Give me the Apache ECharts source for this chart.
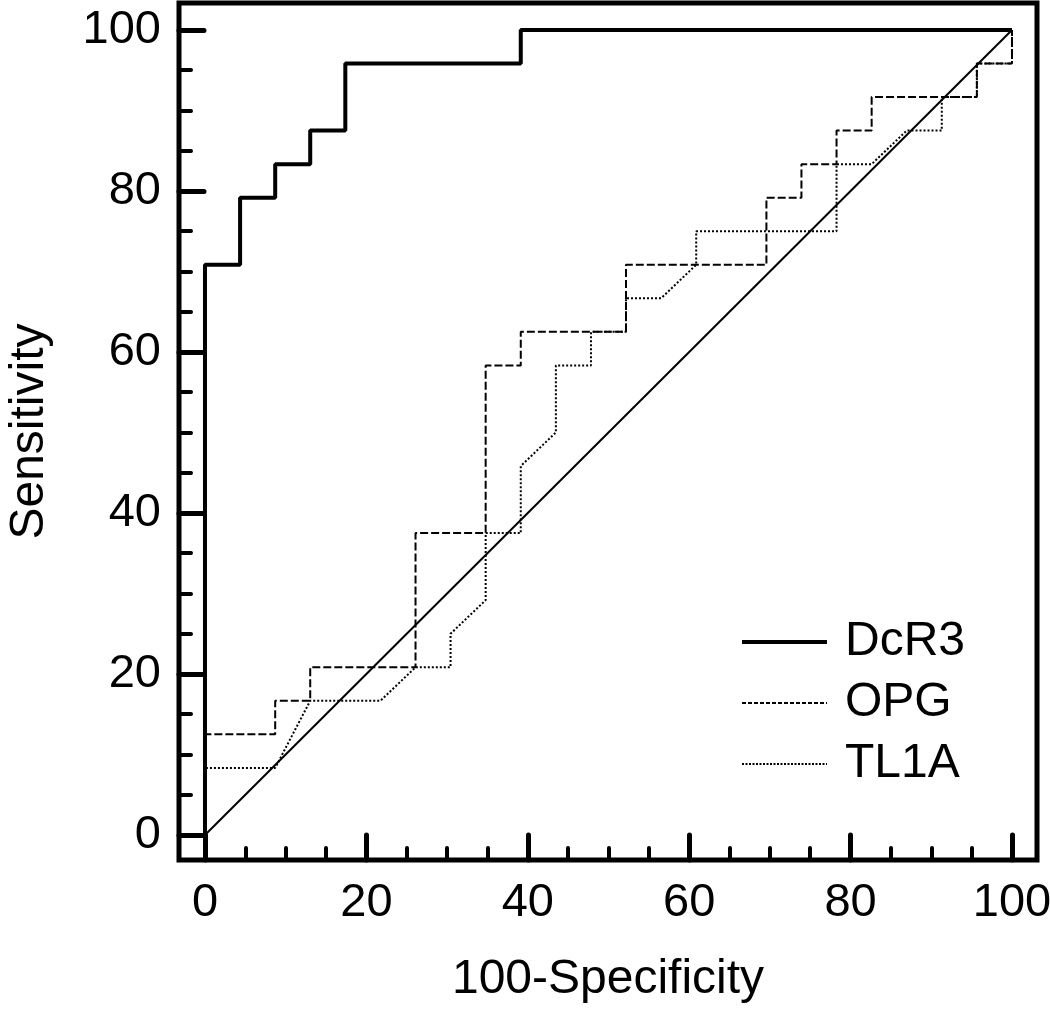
<!DOCTYPE html>
<html>
<head>
<meta charset="utf-8">
<script src="https://cdn.jsdelivr.net/npm/echarts@6/dist/echarts.min.js"></script>
<style>html,body{margin:0;padding:0;background:#fff;}#c{width:1050px;height:1012px;}</style>
</head>
<body>
<div id="c"></div>
<script>
// ROC curves: [100-Specificity, Sensitivity]
const dcr3 = [[0,0],[0,70.83],[4.35,70.83],[4.35,79.17],[8.70,79.17],[8.70,83.33],[13.04,83.33],[13.04,87.5],[17.39,87.5],[17.39,95.83],[39.13,95.83],[39.13,100],[100,100]];
const opg = [[0,0],[0,12.5],[8.70,12.5],[8.70,16.67],[13.04,16.67],[13.04,20.83],[26.09,20.83],[26.09,37.5],[34.78,37.5],[34.78,58.33],[39.13,58.33],[39.13,62.5],[52.17,62.5],[52.17,70.83],[69.57,70.83],[69.57,79.17],[73.91,79.17],[73.91,83.33],[78.26,83.33],[78.26,87.5],[82.61,87.5],[82.61,91.67],[95.65,91.67],[95.65,95.83],[100,95.83],[100,100]];
const tl1a = [[0,0],[0,8.33],[8.70,8.33],[13.04,16.67],[21.74,16.67],[26.09,20.83],[30.43,20.83],[30.43,25.0],[34.78,29.17],[34.78,37.5],[39.13,37.5],[39.13,45.83],[43.48,50.0],[43.48,58.33],[47.83,58.33],[47.83,62.5],[52.17,62.5],[52.17,66.67],[56.52,66.67],[60.87,70.83],[60.87,75.0],[78.26,75.0],[78.26,83.33],[82.61,83.33],[86.96,87.5],[91.30,87.5],[91.30,91.67],[95.65,91.67],[95.65,95.83],[100,95.83],[100,100]];
const diagonal = [[0,0],[100,100]];
const majorTicks = [0,20,40,60,80,100];
const minorTicks = [5,10,15,25,30,35,45,50,55,65,70,75,85,90,95];
const seriesNames = ['DcR3','OPG','TL1A'];

const FONT = 'Liberation Sans, Arial, sans-serif';
const chart = echarts.init(document.getElementById('c'));
const xRange = {min:-3.22, max:103.10};
const yRange = {min:-3.11, max:103.35};
function axisPair(type) {
  const r = type === 'x' ? xRange : yRange;
  const pos = type === 'x' ? 'bottom' : 'left';
  const major = {
    type:'value', position:pos, min:r.min, max:r.max,
    axisLine:{show:false, onZero:false}, splitLine:{show:false},
    axisTick:{show:true, inside:true, length:25, customValues:majorTicks, lineStyle:{color:'#000', width:5, cap:'round'}},
    axisLabel:{show:true, customValues:majorTicks, color:'#000', fontFamily:FONT, fontSize:47, margin: type==='x'?20:18},
    name: type==='x' ? '100-Specificity' : 'Sensitivity',
    nameLocation:'middle', nameGap: type==='x' ? 96 : 125,
    nameTextStyle:{color:'#000', fontFamily:FONT, fontSize:48}
  };
  const minor = {
    type:'value', position:pos, min:r.min, max:r.max,
    axisLine:{show:false, onZero:false}, splitLine:{show:false},
    axisTick:{show:true, inside:true, length:12, customValues:minorTicks, lineStyle:{color:'#000', width:4, cap:'round'}},
    axisLabel:{show:false}
  };
  return [major, minor];
}
chart.setOption({
  animation:false,
  backgroundColor:'#fff',
  grid:{left:179, right:13, top:3, bottom:152, containLabel:false, outerBoundsMode:'none', show:true, borderColor:'#000', borderWidth:5, backgroundColor:'transparent'},
  xAxis: axisPair('x'),
  yAxis: axisPair('y'),
  legend:{
    orient:'vertical', left:740, top:618, padding:0, itemGap:13,
    itemWidth:85, itemHeight:20,
    itemStyle:{opacity:0},
    data: [
      {name:seriesNames[0], lineStyle:{color:'#000', width:4, type:'solid'}},
      {name:seriesNames[1], lineStyle:{color:'#000', width:2, type:[4,2]}},
      {name:seriesNames[2], lineStyle:{color:'#000', width:2, type:[2,1.5]}}
    ],
    textStyle:{color:'#000', fontFamily:FONT, fontSize:48, lineHeight:48, padding:[0,0,0,13]}
  },
  series:[
    {name:seriesNames[0], type:'line', data:dcr3, symbol:'none', itemStyle:{color:'#000'}, lineStyle:{color:'#000', width:4}, z:5},
    {name:seriesNames[1], type:'line', data:opg, symbol:'none', itemStyle:{color:'#000'}, lineStyle:{color:'#000', width:2, type:[8,3]}, z:4},
    {name:seriesNames[2], type:'line', data:tl1a, symbol:'none', itemStyle:{color:'#000'}, lineStyle:{color:'#000', width:2, type:[2,2]}, z:3},
    {name:'ref', type:'line', data:diagonal, symbol:'none', itemStyle:{color:'#000'}, lineStyle:{color:'#000', width:2}, z:2}
  ]
});
</script>
</body>
</html>
